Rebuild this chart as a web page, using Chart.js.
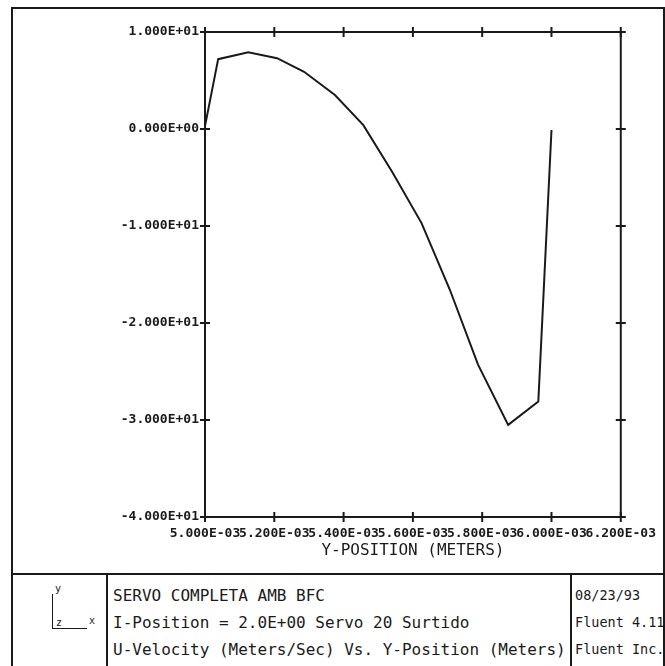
<!DOCTYPE html>
<html>
<head>
<meta charset="utf-8">
<script src="https://cdn.jsdelivr.net/npm/chart.js@4.4.1/dist/chart.umd.min.js"></script>
<style>
    body { margin: 0; background: #fff; }
    #hoja { position: relative; width: 665px; height: 666px; overflow: hidden; background: #fff; }
    .linea { position: absolute; background: #1a1a1a; }
    #grafico { position: absolute; left: 0; top: 0; width: 665px; height: 574px; }
    .texto { position: absolute; font-family: "DejaVu Sans Mono", monospace; font-size: 16px; line-height: 27px; color: #1a1a1a; white-space: pre; }
    .eje { position: absolute; font-family: "DejaVu Sans Mono", monospace; font-size: 10px; color: #1a1a1a; }
</style>
</head>
<body>
<div id="hoja">
    <!-- marco exterior y cajetin -->
    <div class="linea" style="left:11px; top:7px; width:654px; height:2px;"></div>
    <div class="linea" style="left:11px; top:7px; width:2px; height:680px;"></div>
    <div class="linea" style="left:663px; top:7px; width:2px; height:680px;"></div>
    <div class="linea" style="left:11px; top:573px; width:654px; height:2px;"></div>
    <div class="linea" style="left:106px; top:573px; width:2px; height:100px;"></div>
    <div class="linea" style="left:570px; top:573px; width:2px; height:100px;"></div>

    <div id="grafico"><canvas id="chartVelocidad"></canvas></div>

    <!-- icono de ejes -->
    <div class="linea" style="left:52px; top:594px; width:1px; height:35px;"></div>
    <div class="linea" style="left:52px; top:628px; width:35px; height:1px;"></div>
    <div class="eje" style="left:55px; top:583px;">y</div>
    <div class="eje" style="left:56px; top:617px;">z</div>
    <div class="eje" style="left:89px; top:615px;">x</div>

    <div class="texto" style="left:113px; top:582px;">SERVO COMPLETA AMB BFC
I-Position = 2.0E+00 Servo 20 Surtido
U-Velocity (Meters/Sec) Vs. Y-Position (Meters)</div>
    <div class="texto" style="left:575px; top:582px; font-size:13.5px;">08/23/93
Fluent 4.11
Fluent Inc.</div>
</div>

<script>
// Y-position (m) y U-velocity (m/s)
const posicionY = [0.005000, 0.005038, 0.005125, 0.005208, 0.005286, 0.005375, 0.005457,
                   0.005540, 0.005625, 0.005707, 0.005788, 0.005875, 0.005962, 0.006000];
const velocidadU = [0.3, 7.2, 7.9, 7.3, 5.9, 3.5, 0.4,
                    -4.4, -9.7, -16.6, -24.3, -30.5, -28.1, -0.1];

const ticksX = [0.0050, 0.0052, 0.0054, 0.0056, 0.0058, 0.0060, 0.0062];
const ticksY = [10, 0, -10, -20, -30, -40];

const tinta = "#1a1a1a";
const fuente = "DejaVu Sans Mono";

// formato tipo 1.000E+01
function formatoE(v) {
    const [m, e] = Number(v).toExponential(3).split("e");
    const exp = Number(e);
    return m + "E" + (exp < 0 ? "-" : "+") + String(Math.abs(exp)).padStart(2, "0");
}

// caja del grafico con marcas en cruz en los cuatro lados
const marcoEjes = {
    id: "marcoEjes",
    afterDatasetsDraw(chart) {
        const { ctx, chartArea: a, scales } = chart;
        const t = 5;
        ctx.save();
        ctx.strokeStyle = tinta;
        ctx.lineWidth = 2;
        ctx.strokeRect(a.left, a.top, a.right - a.left, a.bottom - a.top);
        ctx.beginPath();
        scales.x.ticks.forEach(tk => {
            const px = scales.x.getPixelForValue(tk.value);
            ctx.moveTo(px, a.top - t); ctx.lineTo(px, a.top + t);
            ctx.moveTo(px, a.bottom - t); ctx.lineTo(px, a.bottom + t);
        });
        scales.y.ticks.forEach(tk => {
            const py = scales.y.getPixelForValue(tk.value);
            ctx.moveTo(a.left - t, py); ctx.lineTo(a.left + t, py);
            ctx.moveTo(a.right - t, py); ctx.lineTo(a.right + t, py);
        });
        ctx.stroke();
        ctx.restore();
    }
};

new Chart(document.getElementById("chartVelocidad"), {
    type: "line",
    data: {
        datasets: [{
            data: posicionY.map((x, i) => ({ x, y: velocidadU[i] })),
            borderColor: tinta,
            borderWidth: 2,
            pointRadius: 0,
            tension: 0,
            fill: false
        }]
    },
    options: {
        responsive: true,
        maintainAspectRatio: false,
        animation: false,
        layout: { padding: { top: 32, right: 44, bottom: 14, left: 0 } },
        plugins: { legend: { display: false }, tooltip: { enabled: false } },
        scales: {
            x: {
                type: "linear",
                min: 0.005,
                max: 0.0062,
                afterBuildTicks: s => { s.ticks = ticksX.map(v => ({ value: v })); },
                afterFit: s => { s.height = 43; },
                grid: { display: false, drawTicks: false },
                border: { display: false },
                ticks: {
                    autoSkip: false,
                    maxRotation: 0,
                    minRotation: 0,
                    padding: 9,
                    color: tinta,
                    font: { family: fuente, size: 13, weight: "bold" },
                    callback: v => formatoE(v)
                },
                title: {
                    display: true,
                    text: "Y-POSITION (METERS)",
                    color: tinta,
                    padding: 0,
                    font: { family: fuente, size: 16 }
                }
            },
            y: {
                min: -40,
                max: 10,
                afterBuildTicks: s => { s.ticks = ticksY.map(v => ({ value: v })); },
                afterFit: s => { s.width = 205; },
                grid: { display: false, drawTicks: false },
                border: { display: false },
                ticks: {
                    padding: 6,
                    color: tinta,
                    font: { family: fuente, size: 13, weight: "bold" },
                    callback: v => formatoE(v)
                }
            }
        }
    },
    plugins: [marcoEjes]
});
</script>
</body>
</html>
